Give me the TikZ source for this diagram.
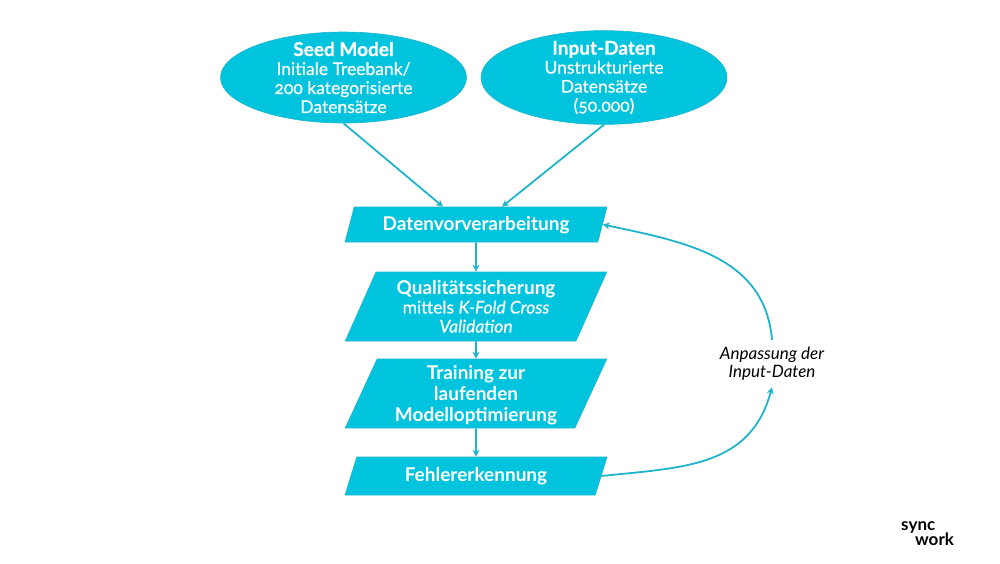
\documentclass[tikz,border=0pt]{standalone}
\usepackage{fontspec}
\setmainfont{Lato}
\newfontfamily\subfont[FakeBold=.6,Numbers=OldStyle]{Lato}
\usetikzlibrary{arrows.meta,shapes.geometric}
\definecolor{syncfill}{HTML}{00C4DE}
\definecolor{syncline}{HTML}{1FB4CC}
\newcommand{\headsize}{\fontsize{19}{19}\selectfont\bfseries}
\newcommand{\subsize}{\fontsize{17.5}{19}\selectfont\subfont\mdseries}
\tikzset{>={Stealth[length=7pt,width=7pt]},
  source/.style={ellipse,draw=syncline,fill=syncfill,text=white,line width=.6pt,inner xsep=0pt,inner ysep=-3.5pt,minimum width=246pt,minimum height=91pt,align=center,font=\subsize},
  stage/.style={trapezium,trapezium left angle=65,trapezium right angle=115,trapezium stretches=true,draw=syncline,fill=syncfill,text=white,line width=.6pt,inner sep=0pt,minimum width=262pt,align=center,font=\headsize},
  oneline/.style={text height=13pt,text depth=2pt},
  flow/.style={->,draw=syncline,line width=1.8pt},
  logo/.style={inner sep=0pt,font=\fontsize{17}{17}\selectfont\bfseries}}

\begin{document}
\begin{tikzpicture}[x=1pt,y=-1pt]
\useasboundingbox (0,0) rectangle (1000,563);
\node[source] (seedmodel) at (343.5,77.5){{\headsize Seed Model}\\ Initiale Treebank/\\ 200 kategorisierte\\ Datensätze};
\node[source] (inputdaten) at (604,77.5){{\headsize Input-Daten}\\ Unstrukturierte\\ Datensätze\\ (50.000)};
\node[stage,oneline,minimum height=35pt] (vorverarbeitung) at (476,224.5){Datenvorverarbeitung};
\node[stage,minimum height=69pt] (qualitaet) at (476,306.5){Qualitätssicherung\\ \subsize mittels \textit{K-Fold Cross}\\ \subsize \textit{Validation}};
\node[stage,text depth=0pt,minimum height=69pt] (training) at (476,393.5){Training zur\\[2pt] laufenden\\[2pt] Modelloptimierung};
\node[stage,oneline,minimum height=38pt] (fehler) at (476,476){Fehlererkennung};
\node[inner sep=0pt,minimum height=47pt,align=center,font=\fontsize{17}{18}\selectfont\itshape] (anpassung) at (772,363.5){Anpassung der\\ Input-Daten};
\node[logo,anchor=west] (sync) at (901,527){sync};
\node[logo,anchor=west] (work) at (915,539){work};
\draw[flow] (seedmodel.south) -- ([xshift=-33pt]vorverarbeitung.north);
\draw[flow] (inputdaten.south) -- ([xshift=26pt]vorverarbeitung.north);
\draw[flow] (vorverarbeitung) -- (qualitaet);
\draw[flow] (qualitaet) -- (training);
\draw[flow] (training) -- (fehler);
\draw[flow] (anpassung.north) to[out=95,in=-12,looseness=1.05] (vorverarbeitung.east);
\draw[flow] (fehler.east) to[out=6,in=-105,looseness=1.1] (anpassung.south);
\end{tikzpicture}
\end{document}
